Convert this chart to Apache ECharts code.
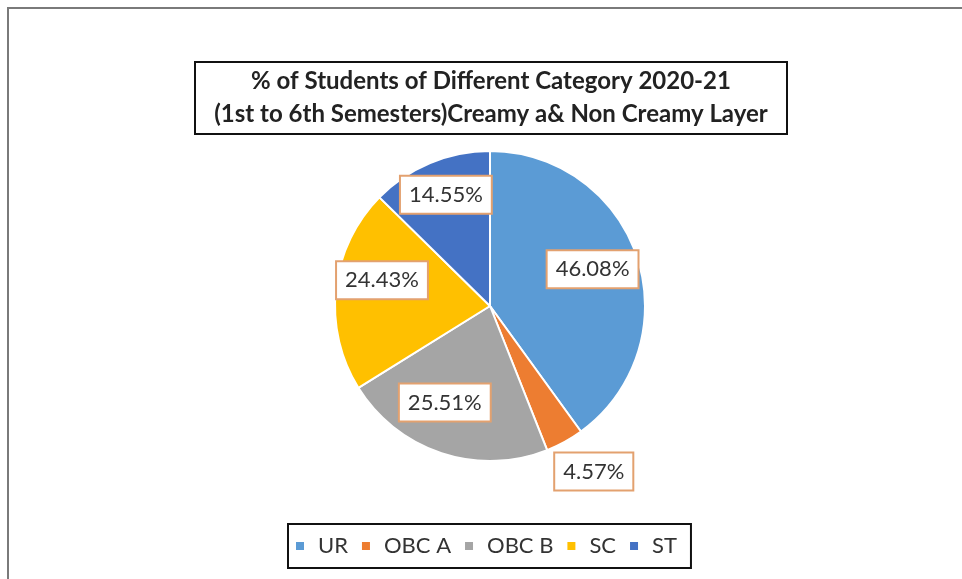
<!DOCTYPE html>
<html>
<head>
<meta charset="utf-8">
<script src="https://cdn.jsdelivr.net/npm/echarts@6/dist/echarts.min.js"></script>
<style>html,body{margin:0;padding:0;background:#fff}#c{width:962px;height:579px}</style>
</head>
<body>
<div id="c"></div>
<script>
const categories = ['UR', 'OBC A', 'OBC B', 'SC', 'ST'];
const values = [46.08, 4.57, 25.51, 24.43, 14.55];
const colors = ['#5B9BD5', '#ED7D31', '#A5A5A5', '#FFC000', '#4472C4'];
const labelOffsets = [[26, -12], [65, 95], [-20, 20], [-28, -17], [-13, -37]];
const titleLines = ['% of Students of Different Category 2020-21', '(1st to 6th Semesters)Creamy a& Non Creamy Layer'];

const FONT = 'Lato, "Open Sans", sans-serif';
const chart = echarts.init(document.getElementById('c'), null, {renderer: 'canvas'});
chart.setOption({
  backgroundColor: '#fff',
  animation: false,
  graphic: [{
    type: 'rect', shape: {x: 8, y: 8, width: 970, height: 590},
    style: {fill: 'none', stroke: '#7a7a7a', lineWidth: 2}, silent: true
  }],
  title: {
    text: titleLines.join('\n'),
    left: 471, top: 62,
    textAlign: 'center',
    padding: [3, 20, 3, 20],
    borderColor: '#111', borderWidth: 2,
    textStyle: {fontFamily: FONT, fontWeight: 'bold', fontSize: 24, lineHeight: 33, color: '#222'}
  },
  legend: {
    bottom: 11, left: 288,
    data: categories,
    icon: 'path://M0,0h10v10h-10z', itemWidth: 26, itemHeight: 10, itemGap: 12,
    padding: [11, 14, 11, 6],
    borderColor: '#111', borderWidth: 2,
    textStyle: {fontFamily: FONT, fontSize: 22, color: '#333'}
  },
  series: [{
    type: 'pie',
    center: [490, 306],
    radius: 155,
    startAngle: 90,
    clockwise: true,
    itemStyle: {borderColor: '#fff', borderWidth: 2},
    label: {
      show: true, position: 'inside',
      formatter: p => p.value.toFixed(2) + '%',
      fontFamily: FONT, fontSize: 22, color: '#333',
      backgroundColor: '#fff', borderColor: '#E3A16F', borderWidth: 2,
      padding: [8, 8, 6, 8]
    },
    labelLine: {show: false},
    emphasis: {disabled: true},
    data: categories.map((c, i) => ({
      name: c, value: values[i],
      itemStyle: {color: colors[i]},
      label: {offset: labelOffsets[i]}
    }))
  }]
});
</script>
</body>
</html>
